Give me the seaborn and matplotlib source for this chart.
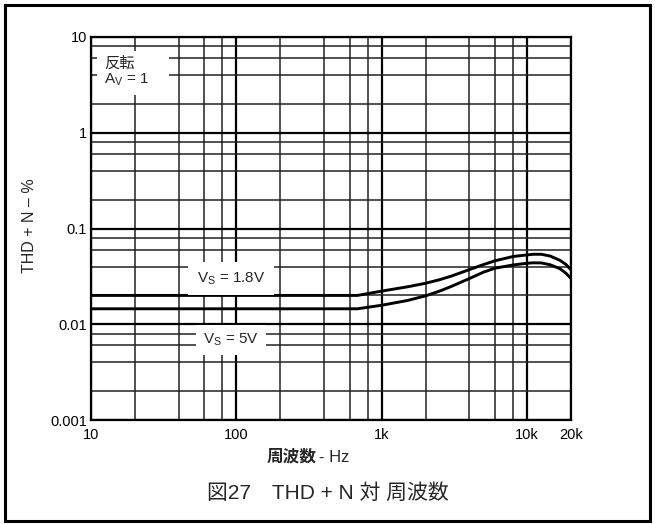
import matplotlib
matplotlib.use('Agg')
import matplotlib.pyplot as plt
import seaborn as sns
import pandas as pd
from matplotlib.ticker import LogLocator, FixedLocator, FixedFormatter, NullFormatter
from matplotlib.patches import Rectangle

# 読み取った値 (周波数 Hz, THD+N %)
freq = [10, 100, 680, 1000, 1500, 2000, 2500, 3000, 4000, 5000, 6000, 8000, 10000, 11000, 12500, 14400, 16800, 18500, 20000]
thd_18v = [0.020, 0.020, 0.020, 0.0222, 0.0246, 0.0268, 0.0292, 0.0318, 0.0372, 0.042, 0.046, 0.051, 0.053, 0.0538, 0.0538, 0.0515, 0.0465, 0.042, 0.037]
thd_5v = [0.0145, 0.0145, 0.0145, 0.0158, 0.0177, 0.0198, 0.0222, 0.0248, 0.030, 0.035, 0.0385, 0.0416, 0.0434, 0.0438, 0.0437, 0.0418, 0.0380, 0.034, 0.030]

x_ticks = [10, 100, 1000, 10000, 20000]
x_labels = ['10', '100', '1k', '10k', '20k']
y_ticks = [0.001, 0.01, 0.1, 1, 10]
y_labels = ['0.001', '0.01', '0.1', '1', '10']

df = pd.DataFrame({
    'freq': freq + freq,
    'thd': thd_18v + thd_5v,
    'vs': ['1.8V'] * len(freq) + ['5V'] * len(freq),
})

sns.set_style('white')
plt.rcParams['font.family'] = ['Liberation Sans', 'Noto Sans CJK JP', 'DejaVu Sans']
plt.rcParams['mathtext.fontset'] = 'custom'
plt.rcParams['mathtext.rm'] = 'Liberation Sans'
plt.rcParams['mathtext.it'] = 'Liberation Sans'

fig = plt.figure(figsize=(6.55, 5.24), dpi=100)
ax = fig.add_axes([91 / 655, 1 - 420 / 524, 480 / 655, 383 / 524])

sns.lineplot(data=df, x='freq', y='thd', hue='vs', palette=['black', 'black'],
             linewidth=2.1, legend=False, sort=False, ax=ax)

ax.set_xscale('log')
ax.set_yscale('log')
ax.set_xlim(10, 20000)
ax.set_ylim(0.001, 10)

ax.xaxis.set_major_locator(FixedLocator(x_ticks))
ax.xaxis.set_major_formatter(FixedFormatter(x_labels))
ax.yaxis.set_major_locator(FixedLocator(y_ticks))
ax.yaxis.set_major_formatter(FixedFormatter(y_labels))
ax.xaxis.set_minor_locator(LogLocator(base=10, subs=(2, 4, 6, 8)))
ax.yaxis.set_minor_locator(LogLocator(base=10, subs=(2, 4, 6, 8)))
ax.xaxis.set_minor_formatter(NullFormatter())
ax.yaxis.set_minor_formatter(NullFormatter())

ax.set_axisbelow(True)
ax.grid(which='major', color='black', linewidth=1.6)
ax.grid(which='minor', color='#222222', linewidth=1.1)
ax.tick_params(which='both', length=0, labelsize=10.5, colors='black')
ax.tick_params(axis='x', pad=6)
ax.tick_params(axis='y', pad=3)
for s in ax.spines.values():
    s.set_visible(True)
    s.set_color('black')
    s.set_linewidth(1.6)
ax.set_xlabel('')
ax.set_ylabel('')

box = dict(facecolor='white', edgecolor='none', pad=5)
ax.text(12.3, 4.3, '反転\nA$_\\mathrm{V}$ = 1    ', fontsize=11, ha='left', va='center',
        linespacing=1.1, bbox=box)
ax.text(92, 0.030, 'V$_\\mathrm{S}$ = 1.8V', fontsize=11, ha='center', va='center',
        bbox=dict(facecolor='white', edgecolor='none', pad=6))
ax.text(92, 0.0069, 'V$_\\mathrm{S}$ = 5V', fontsize=11, ha='center', va='center',
        bbox=dict(facecolor='white', edgecolor='none', pad=5))

fig.text(30 / 655, 1 - 226 / 524, 'THD + N – %', rotation=90, ha='center', va='center',
         fontsize=11.5)
fig.text(316 / 655, 1 - 457 / 524, '周波数', fontweight='bold', ha='right', va='center',
         fontsize=12)
fig.text(319 / 655, 1 - 457 / 524, '- Hz', ha='left', va='center', fontsize=12)
fig.text(0.5, 1 - 493 / 524, '図27\u3000THD + N 対 周波数', ha='center', va='center',
         fontsize=15)

fig.patches.append(Rectangle((5 / 655, 3 / 524), 645 / 655, 516 / 524, transform=fig.transFigure,
                             fill=False, edgecolor='black', linewidth=2.2))

fig.savefig('out.png', dpi=100)
